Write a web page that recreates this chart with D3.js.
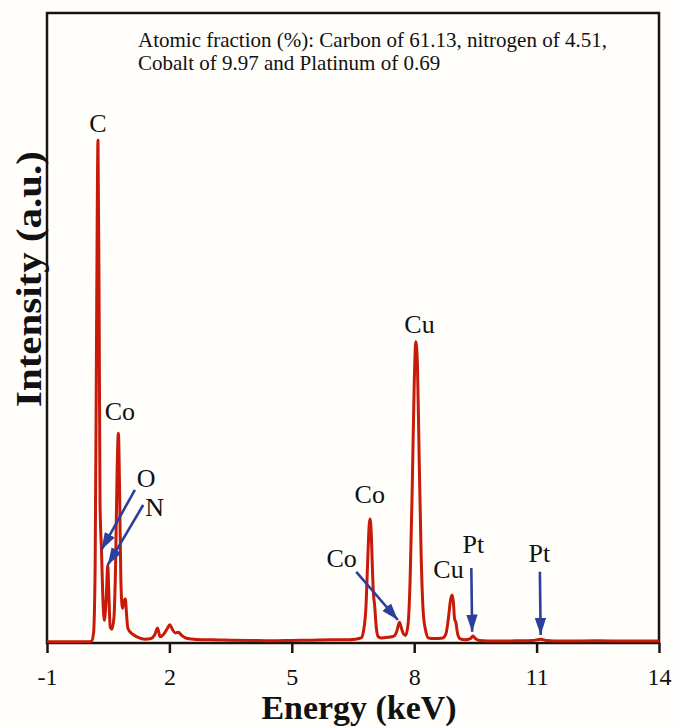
<!DOCTYPE html>
<html>
<head>
<meta charset="utf-8">
<script src="https://cdn.jsdelivr.net/npm/d3@7/dist/d3.min.js"></script>
<style>
  html, body { margin: 0; padding: 0; background: #fffefa; }
  svg { display: block; }
  text { font-family: "Liberation Serif", "Times New Roman", serif; fill: #111; }
</style>
</head>
<body>
<svg id="chart" width="677" height="727"></svg>
<script>
// EDS spectrum: energy (keV) and intensity (arbitrary units)
const energy = [
  -1.0, -0.5, 0.0, 0.09, 0.14, 0.18, 0.215, 0.25, 0.28, 0.30, 0.335, 0.37, 0.405,
  0.45, 0.49, 0.51, 0.55, 0.59, 0.64, 0.68, 0.72, 0.75, 0.78, 0.81, 0.85, 0.88,
  0.92, 0.95, 0.98, 1.03, 1.12, 1.23, 1.40, 1.55, 1.64, 1.71, 1.77, 1.86, 1.95,
  2.01, 2.07, 2.14, 2.22, 2.30, 2.40, 2.60, 3.00, 3.50, 4.00, 4.50, 5.00, 5.50,
  6.00, 6.30, 6.55, 6.70, 6.76, 6.82, 6.86, 6.90, 6.92, 6.95, 6.98, 7.00, 7.03,
  7.07, 7.12, 7.20, 7.35, 7.50, 7.57, 7.62, 7.64, 7.68, 7.74, 7.79, 7.85, 7.90,
  7.95, 8.00, 8.04, 8.08, 8.12, 8.17, 8.22, 8.28, 8.35, 8.50, 8.70, 8.78, 8.84,
  8.89, 8.93, 8.96, 8.99, 9.02, 9.06, 9.12, 9.25, 9.38, 9.44, 9.50, 9.60, 10.0,
  10.5, 10.9, 11.1, 11.25, 11.6, 12.5, 13.2, 14.0
];
const intensity = [
  0.2, 0.2, 0.2, 0.3, 1.5, 12, 50, 79.8, 50, 22, 14.8, 7, 3.6,
  7, 12.4, 9, 2.5, 2.2, 4, 12, 28, 33.3, 24, 10, 5.5, 6.5,
  7, 4.5, 2.4, 1.8, 1.3, 0.9, 0.6, 0.7, 1.3, 2.4, 1.0, 1.4, 2.3,
  2.9, 2.2, 1.6, 1.7, 1.2, 0.8, 0.6, 0.5, 0.45, 0.4, 0.35, 0.4, 0.45,
  0.5, 0.5, 0.6, 0.8, 2, 6, 13, 19, 19.7, 17, 11, 8, 6,
  2.5, 1.0, 0.8, 0.9, 1.1, 1.8, 3.0, 3.3, 2.5, 1.4, 1.2, 3, 10,
  24, 41, 47.8, 44, 30, 14, 5, 2, 0.8, 0.7, 0.8, 1.5, 4,
  6.8, 7.6, 6.5, 3.8, 3.3, 1.6, 0.7, 0.5, 0.7, 1.1, 0.7, 0.4, 0.3,
  0.35, 0.4, 0.6, 0.4, 0.3, 0.35, 0.3, 0.3
];

const xTicks = [-1, 2, 5, 8, 11, 14];

// Peak labels: element, label anchor (keV, a.u.)
const labelText = ["C", "Co", "O", "N", "Co", "Co", "Cu", "Cu", "Pt", "Pt"];
const labelE    = [0.25, 0.787, 1.43, 1.64, 6.91, 6.22, 8.13, 8.84, 9.45, 11.07];
const labelI    = [81.1, 35.4, 24.8, 20.2, 22.2, 12.1, 49.2, 10.3, 14.3, 12.9];

// Arrows pointing at the minor peaks: tail and tip (keV, a.u.)
const arrowTailE = [1.154, 1.357, 6.58, 9.40, 11.08];
const arrowTailI = [24.3, 21.9, 11.3, 11.9, 11.3];
const arrowTipE  = [0.335, 0.49, 7.60, 9.42, 11.10];
const arrowTipI  = [14.8, 12.4, 3.65, 1.8, 1.27];

const noteLines = [
  "Atomic fraction (%): Carbon of 61.13, nitrogen of 4.51,",
  "Cobalt of 9.97 and Platinum of 0.69"
];

const svg = d3.select("#chart");
const plot = { left: 47, right: 659, top: 13, bottom: 643 };

const x = d3.scaleLinear().domain([-1, 14]).range([plot.left, plot.right]);
const y = d3.scaleLinear().domain([0, 100]).range([plot.bottom, plot.top]);

const red = "#c81a08";
const blue = "#2c3f9f";

// frame
svg.append("rect")
  .attr("x", plot.left).attr("y", plot.top)
  .attr("width", plot.right - plot.left).attr("height", plot.bottom - plot.top)
  .attr("fill", "none").attr("stroke", "#1a1410").attr("stroke-width", 2.5);

// spectrum
const pts = energy.map((e, i) => [e, intensity[i]]);
const line = d3.line().x(d => x(d[0])).y(d => y(d[1])).curve(d3.curveMonotoneX);
svg.append("path")
  .datum(pts)
  .attr("d", line)
  .attr("fill", "none")
  .attr("stroke", red)
  .attr("stroke-width", 3)
  .attr("stroke-linejoin", "round");

// x axis
const xAxis = svg.append("g")
  .attr("transform", `translate(0,${plot.bottom})`)
  .call(d3.axisBottom(x).tickValues(xTicks).tickSize(10).tickPadding(15).tickFormat(d => String(d)));
xAxis.select(".domain").remove();
xAxis.selectAll(".tick line").attr("stroke", "#1a1410").attr("stroke-width", 2.5);
xAxis.selectAll(".tick text")
  .attr("font-family", "Liberation Serif")
  .attr("font-size", 24)
  .attr("fill", "#111");

// axis titles
svg.append("text")
  .attr("x", (plot.left + plot.right) / 2 + 6)
  .attr("y", 719)
  .attr("text-anchor", "middle")
  .attr("font-size", 33)
  .attr("font-weight", "bold")
  .attr("textLength", 195)
  .attr("lengthAdjust", "spacingAndGlyphs")
  .text("Energy (keV)");

svg.append("text")
  .attr("transform", `translate(41,279) rotate(-90)`)
  .attr("text-anchor", "middle")
  .attr("font-size", 35)
  .attr("font-weight", "bold")
  .attr("textLength", 256)
  .attr("lengthAdjust", "spacingAndGlyphs")
  .text("Intensity (a.u.)");

// composition note
svg.append("g").selectAll("text")
  .data(noteLines)
  .join("text")
  .attr("x", 138)
  .attr("y", (d, i) => 47 + i * 23)
  .attr("font-size", 21)
  .text(d => d);

// arrows
const defs = svg.append("defs");
defs.append("marker")
  .attr("id", "head")
  .attr("viewBox", "0 0 10 10")
  .attr("preserveAspectRatio", "none")
  .attr("refX", 10).attr("refY", 5)
  .attr("markerWidth", 6.6).attr("markerHeight", 4.4)
  .attr("markerUnits", "strokeWidth")
  .attr("orient", "auto")
  .append("path")
  .attr("d", "M0,0 L10,5 L0,10 Z")
  .attr("fill", blue);

svg.append("g").selectAll("line")
  .data(arrowTailE.map((e, i) => i))
  .join("line")
  .attr("x1", i => x(arrowTailE[i])).attr("y1", i => y(arrowTailI[i]))
  .attr("x2", i => x(arrowTipE[i])).attr("y2", i => y(arrowTipI[i]))
  .attr("stroke", blue)
  .attr("stroke-width", 2.6)
  .attr("marker-end", "url(#head)");

// peak labels
svg.append("g").selectAll("text")
  .data(labelText.map((t, i) => i))
  .join("text")
  .attr("x", i => x(labelE[i]))
  .attr("y", i => y(labelI[i]))
  .attr("text-anchor", "middle")
  .attr("font-size", 26)
  .text(i => labelText[i]);
</script>
</body>
</html>
